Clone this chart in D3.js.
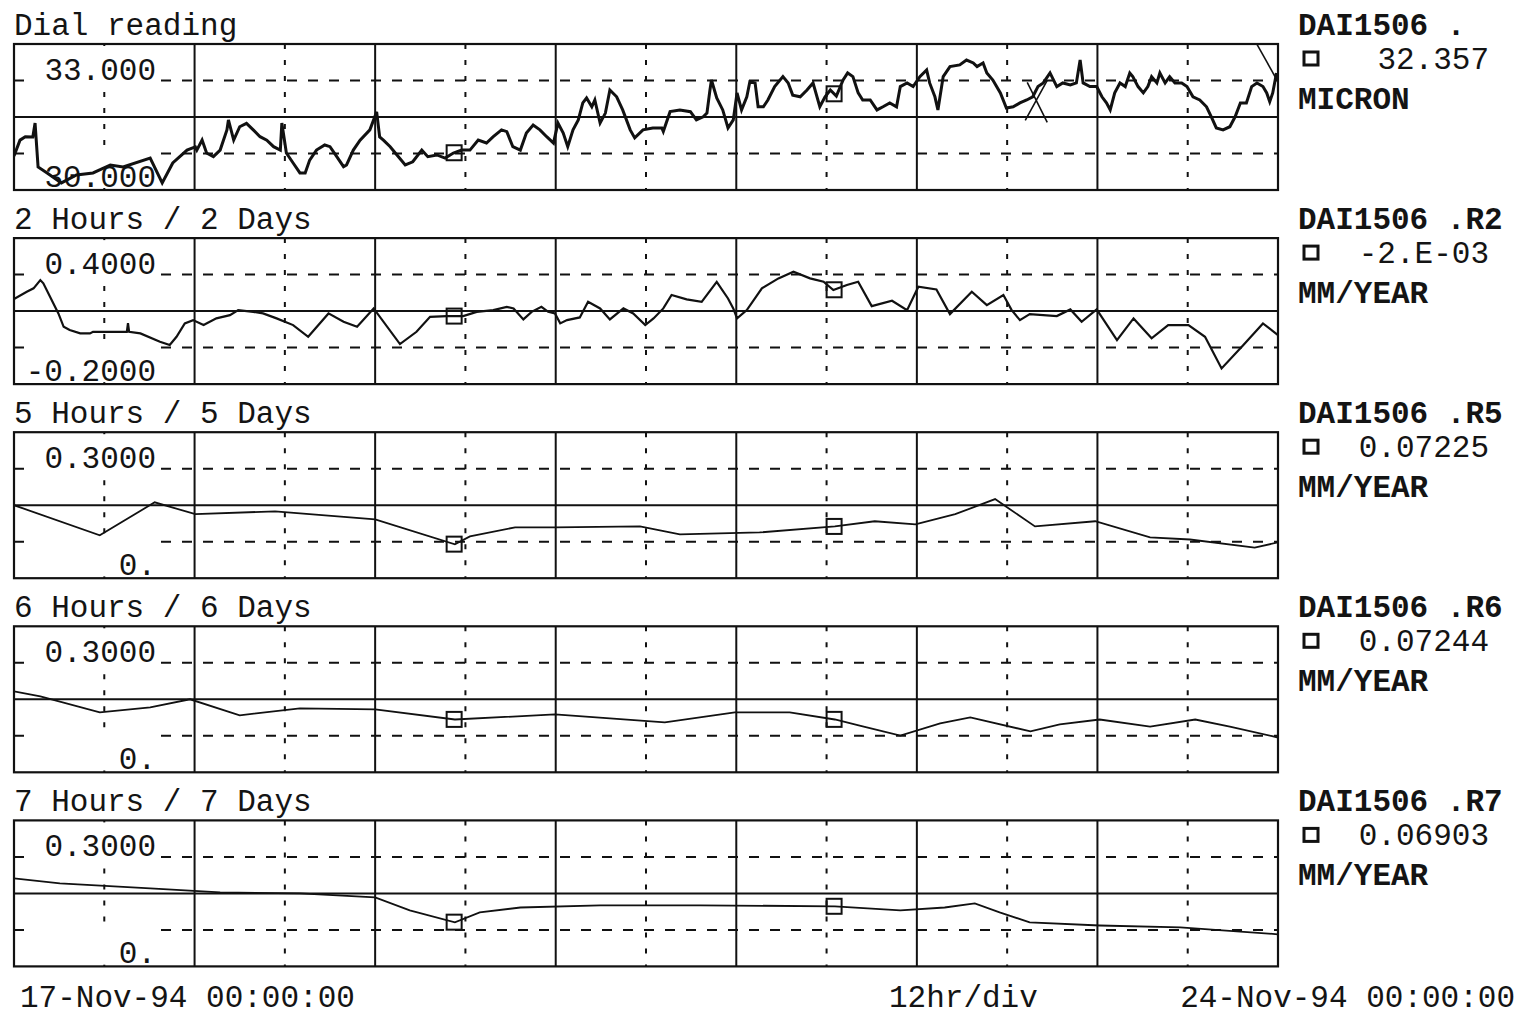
<!DOCTYPE html>
<html>
<head>
<meta charset="utf-8">
<script src="https://cdn.jsdelivr.net/npm/d3@7"></script>
<style>
  body { margin: 0; background: #fff; }
  svg { display: block; }
  text { font-family: "Liberation Mono", "DejaVu Sans Mono", monospace; fill: #141414; }
</style>
</head>
<body>
<svg id="chart" width="1519" height="1017"></svg>
<script>
// ---- Data: [hours since start, value] ----
const dialReading = [[0,29.9],[0.8,30.55],[1.5,30.69],[2.5,30.68],[2.8,31.25],[3.2,29.45],[4.4,29.2],[6.3,28.79],[8.3,29.12],[10.5,29.2],[12.8,29.53],[14.5,29.45],[18.1,29.81],[19.7,28.79],[21.1,29.61],[23.0,30.14],[24.1,30.27],[24.3,30.14],[25.0,30.55],[25.6,30.02],[26.5,29.87],[27.4,30.14],[28.3,30.97],[28.5,31.38],[29.2,30.55],[30.0,31.1],[30.9,31.24],[31.8,30.97],[32.7,30.69],[33.6,30.55],[34.5,30.28],[35.4,30.14],[35.6,31.25],[36.2,30.02],[37.1,29.61],[38.0,29.2],[38.7,29.2],[39.3,29.73],[40.2,30.14],[41.3,30.35],[42.0,30.28],[42.9,29.87],[43.8,29.46],[44.2,29.53],[45.1,30.14],[46.0,30.55],[47.3,30.97],[48.2,31.71],[48.6,30.68],[49.1,30.55],[50.0,30.28],[50.9,29.94],[52.0,29.53],[53.0,29.66],[54.2,30.14],[55.0,29.87],[56.2,29.94],[57.3,29.81],[58.4,30.02],[59.5,30.14],[60.6,30.14],[61.7,30.55],[62.8,30.43],[63.7,30.69],[64.8,30.97],[65.5,30.9],[66.3,30.28],[67.3,30.14],[68.1,30.84],[69.0,31.17],[69.9,30.97],[70.8,30.69],[71.7,30.43],[72.3,31.25],[73.0,30.84],[73.6,30.28],[74.3,30.97],[75.0,31.38],[75.6,32.08],[76.1,32.28],[76.8,31.92],[77.2,32.2],[77.9,31.25],[78.6,31.66],[79.2,32.61],[80.1,32.33],[80.9,31.79],[81.9,30.97],[82.5,30.64],[83.6,30.97],[84.9,31.05],[86.1,31.05],[86.3,30.9],[87.2,31.72],[88.5,31.79],[89.9,31.72],[90.7,31.38],[91.6,31.51],[92.1,31.66],[92.5,32.61],[92.7,33.02],[93.4,32.28],[94.2,31.79],[94.9,31.05],[95.6,31.38],[96.1,32.49],[96.7,31.79],[97.4,32.33],[97.8,32.95],[98.5,32.9],[98.9,31.92],[99.6,31.92],[100.2,32.2],[101.1,32.75],[102.2,33.16],[102.9,32.9],[103.5,32.4],[104.5,32.33],[105.4,32.61],[106.2,32.9],[107.1,31.92],[107.8,32.33],[108.5,32.61],[109.3,32.36],[110.2,33.02],[110.8,33.31],[111.5,33.16],[112.2,32.49],[112.8,32.2],[113.8,32.2],[114.7,31.79],[115.5,31.92],[116.4,32.08],[117.3,31.92],[117.8,32.75],[118.7,32.9],[119.5,32.75],[120.4,33.16],[121.3,33.43],[121.7,32.9],[122.4,32.33],[122.8,31.79],[123.5,33.16],[124.4,33.57],[125.7,33.64],[126.6,33.84],[127.5,33.72],[128.0,33.57],[128.8,33.72],[129.3,33.31],[130.1,33.02],[131.1,32.49],[131.9,31.87],[132.8,31.92],[133.7,32.08],[134.6,32.2],[135.4,32.33],[136.1,32.75],[136.8,32.9],[137.7,33.31],[138.6,32.75],[139.4,32.9],[140.4,32.82],[141.2,32.9],[141.7,33.84],[142.1,32.9],[143.0,32.75],[143.9,32.75],[144.6,32.33],[145.2,32.08],[145.7,31.79],[146.3,32.49],[147.0,32.9],[147.7,32.75],[148.3,33.31],[148.7,33.16],[149.4,32.75],[150.1,32.49],[150.7,32.75],[151.2,33.16],[151.9,32.9],[152.3,33.31],[153.0,32.9],[153.6,33.16],[154.3,32.9],[155.2,32.9],[155.9,32.75],[156.7,32.33],[157.6,32.2],[158.5,31.92],[159.2,31.46],[159.8,31.05],[160.7,30.97],[161.6,31.1],[162.3,31.51],[163.0,32.08],[163.8,32.08],[164.5,32.75],[165.2,32.9],[166.0,32.75],[166.5,32.49],[166.9,32.13],[167.3,32.49],[167.8,33.31]];

const rate2h = [[0,0.2],[1.7,0.259],[2.6,0.287],[3.5,0.355],[3.9,0.328],[5.9,0.081],[6.6,-0.029],[7.4,-0.056],[8.8,-0.083],[10.1,-0.083],[10.5,-0.07],[15.0,-0.07],[15.15,0.0],[15.3,-0.07],[16.8,-0.083],[19.4,-0.152],[20.7,-0.179],[21.6,-0.111],[22.7,-0.001],[23.8,0.026],[25.2,-0.015],[26.9,0.04],[28.7,0.067],[29.8,0.108],[31.8,0.094],[33.1,0.081],[34.9,0.04],[37.1,-0.015],[39.1,-0.111],[41.8,0.081],[43.8,0.012],[45.6,-0.029],[47.8,0.122],[51.3,-0.171],[53.5,-0.07],[55.3,0.053],[57.5,0.059],[59.7,0.059],[61.5,0.094],[63.7,0.108],[65.5,0.135],[66.4,0.122],[67.7,0.032],[68.8,0.094],[70.1,0.135],[71.0,0.094],[71.9,0.081],[72.6,-0.001],[73.5,0.026],[75.2,0.048],[76.3,0.176],[77.9,0.122],[79.2,0.032],[81.0,0.122],[82.3,0.081],[83.9,-0.015],[85.0,0.04],[86.3,0.122],[87.4,0.232],[89.4,0.196],[91.4,0.176],[93.4,0.341],[94.9,0.204],[95.6,0.122],[96.1,0.04],[97.4,0.108],[99.4,0.287],[101.6,0.369],[103.6,0.423],[105.8,0.369],[107.6,0.341],[108.9,0.273],[110.7,0.314],[112.2,0.341],[114.0,0.141],[116.7,0.185],[118.7,0.108],[120.2,0.3],[122.6,0.278],[124.4,0.075],[127.3,0.259],[129.3,0.149],[131.5,0.232],[132.6,0.108],[133.7,0.026],[135.0,0.075],[138.6,0.059],[140.4,0.114],[141.9,0.012],[143.9,0.114],[146.6,-0.138],[148.8,0.04],[151.2,-0.124],[153.4,-0.015],[156.1,-0.015],[158.3,-0.111],[160.5,-0.371],[163.4,-0.179],[166.0,-0.001],[168,-0.097]];

const rate5h = [[0,0.15],[11.4,0.026],[18.7,0.162],[24.1,0.113],[34.7,0.125],[48.0,0.092],[58.6,-0.011],[60.6,0.022],[66.6,0.059],[71.9,0.059],[83.2,0.063],[88.5,0.03],[99.1,0.038],[109.1,0.063],[114.4,0.084],[119.8,0.071],[125.1,0.113],[130.4,0.175],[135.7,0.063],[143.7,0.084],[151.0,0.018],[156.3,0.009],[164.9,-0.024],[168,-0.003]];

const rate6h = [[0,0.183],[3.5,0.162],[11.4,0.096],[18.1,0.117],[23.4,0.15],[30.0,0.084],[38.0,0.113],[48.0,0.109],[58.6,0.067],[71.9,0.088],[86.5,0.055],[95.8,0.096],[103.1,0.096],[109.1,0.067],[112.4,0.042],[117.8,0.001],[123.1,0.051],[127.1,0.076],[135.1,0.018],[139.0,0.047],[144.3,0.067],[151.0,0.038],[157.0,0.067],[161.6,0.038],[168,-0.007]];

const rate7h = [[0,0.212],[6.1,0.191],[18.1,0.171],[27.4,0.154],[38.0,0.15],[48.0,0.134],[52.6,0.08],[58.6,0.031],[61.9,0.072],[67.3,0.092],[77.9,0.101],[91.2,0.101],[109.1,0.097],[117.8,0.08],[123.7,0.092],[127.7,0.109],[131.0,0.072],[135.0,0.031],[144.3,0.018],[155.0,0.01],[168,-0.018]];

// ---- Labels ----
const panelTitles = ["Dial reading", "2 Hours / 2 Days", "5 Hours / 5 Days", "6 Hours / 6 Days", "7 Hours / 7 Days"];
const upperTicks = [33, 0.4, 0.3, 0.3, 0.3];
const upperTickLabels = ["33.000", "0.4000", "0.3000", "0.3000", "0.3000"];
const lowerTicks = [30, -0.2, 0, 0, 0];
const lowerTickLabels = ["30.000", "-0.2000", "0.", "0.", "0."];
const tagNames = ["DAI1506 .", "DAI1506 .R2", "DAI1506 .R5", "DAI1506 .R6", "DAI1506 .R7"];
const readouts = ["32.357", "-2.E-03", "0.07225", "0.07244", "0.06903"];
const units = ["MICRON", "MM/YEAR", "MM/YEAR", "MM/YEAR", "MM/YEAR"];
const cursorHours = [58.5, 109.0];
const crossMarks = [{ hour: 136.0, value: 32.1 }];
const dialTrail = [[165.0, 34.6], [167.9, 33.0]];
const startDate = new Date(Date.UTC(1994, 10, 17, 0, 0, 0));
const endDate = new Date(Date.UTC(1994, 10, 24, 0, 0, 0));
const scaleCaption = "12hr/div";

const series = [dialReading, rate2h, rate5h, rate6h, rate7h];

// ---- Layout ----
const W = 1519, H = 1017;
const left = 14, right = 1278;
const panelH = 146, panelStep = 194.1, firstTop = 44;
const ink = "#111";

const svg = d3.select("#chart");
svg.append("rect").attr("width", W).attr("height", H).attr("fill", "#fff");

const x = d3.scaleUtc().domain([startDate, endDate]).range([left, right]);
const hourToDate = h => new Date(startDate.getTime() + h * 3600e3);
const gridTicks = d3.utcHour.every(12).range(startDate, endDate).slice(1);

function valueAt(data, h) {
  const i = d3.bisector(d => d[0]).left(data, h);
  if (i <= 0) return data[0][1];
  if (i >= data.length) return data[data.length - 1][1];
  const a = data[i - 1], b = data[i];
  const t = (h - a[0]) / (b[0] - a[0]);
  return a[1] + t * (b[1] - a[1]);
}

const defs = svg.append("defs");

series.forEach((data, i) => {
  const top = firstTop + i * panelStep;
  const bottom = top + panelH;
  const lo = lowerTicks[i], hi = upperTicks[i];
  const span = hi - lo;
  const y = d3.scaleLinear().domain([lo - span / 2, hi + span / 2]).range([bottom, top]);
  const mid = (lo + hi) / 2;

  defs.append("clipPath").attr("id", "clip" + i)
    .append("rect").attr("x", left).attr("y", top).attr("width", right - left).attr("height", panelH);

  const g = svg.append("g");

  // vertical grid: solid at midnight, dashed at noon
  g.selectAll("line.v").data(gridTicks).join("line")
    .attr("x1", d => x(d)).attr("x2", d => x(d))
    .attr("y1", top).attr("y2", bottom)
    .attr("stroke", ink)
    .attr("stroke-width", 2)
    .attr("stroke-dasharray", d => d.getUTCHours() === 0 ? null : "5,11");

  // horizontal grid
  [[hi, true], [mid, false], [lo, true]].forEach(([v, dashed]) => {
    g.append("line")
      .attr("x1", left).attr("x2", right)
      .attr("y1", y(v)).attr("y2", y(v))
      .attr("stroke", ink).attr("stroke-width", 2)
      .attr("stroke-dasharray", dashed ? "10,11" : null);
  });

  // tick label boxes
  g.append("rect").attr("x", 25).attr("y", top + 2).attr("width", 134).attr("height", y(hi) - top + 1)
    .attr("fill", "#fff");
  g.append("rect").attr("x", 25).attr("y", y(lo) - 2).attr("width", 134).attr("height", bottom - y(lo))
    .attr("fill", "#fff");
  g.append("text").attr("x", 156).attr("y", y(hi) - 1).attr("text-anchor", "end")
    .attr("font-size", 31).text(upperTickLabels[i]);
  g.append("text").attr("x", 156).attr("y", bottom - 3).attr("text-anchor", "end")
    .attr("font-size", 31).text(lowerTickLabels[i]);

  // series line
  const line = d3.line().x(d => x(hourToDate(d[0]))).y(d => y(d[1]));
  g.append("path").datum(data)
    .attr("clip-path", `url(#clip${i})`)
    .attr("d", line)
    .attr("fill", "none").attr("stroke", ink)
    .attr("stroke-width", i === 0 ? 3 : (i === 1 ? 2.2 : 1.8))
    .attr("stroke-linejoin", "miter");

  // cursor squares
  cursorHours.forEach(h => {
    const cx = x(hourToDate(h)), cy = y(valueAt(data, h));
    g.append("rect").attr("x", cx - 7.5).attr("y", cy - 7.5).attr("width", 15).attr("height", 15)
      .attr("fill", "none").attr("stroke", ink).attr("stroke-width", 2);
  });

  if (i === 0) {
    crossMarks.forEach(m => {
      const cx = x(hourToDate(m.hour)), cy = y(m.value);
      g.append("path")
        .attr("d", `M${cx - 10},${cy - 20}L${cx + 10},${cy + 20}M${cx - 12},${cy + 18}L${cx + 10},${cy - 22}`)
        .attr("fill", "none").attr("stroke", ink).attr("stroke-width", 1.6);
    });
    g.append("path").datum(dialTrail).attr("clip-path", `url(#clip${i})`)
      .attr("d", line).attr("fill", "none").attr("stroke", ink).attr("stroke-width", 1.6);
  }

  // panel frame
  g.append("rect").attr("x", left).attr("y", top).attr("width", right - left).attr("height", panelH)
    .attr("fill", "none").attr("stroke", ink).attr("stroke-width", 2.2);

  // title
  svg.append("text").attr("x", 14).attr("y", top - 9).attr("font-size", 31).text(panelTitles[i]);

  // right side tag block
  svg.append("text").attr("x", 1298).attr("y", top - 9).attr("font-size", 31).attr("font-weight", "bold")
    .text(tagNames[i]);
  svg.append("rect").attr("x", 1304).attr("y", top + 8).attr("width", 14).attr("height", 13)
    .attr("fill", "none").attr("stroke", ink).attr("stroke-width", 3);
  svg.append("text").attr("x", 1489).attr("y", top + 25).attr("text-anchor", "end").attr("font-size", 31)
    .text(readouts[i]);
  svg.append("text").attr("x", 1298).attr("y", top + 65).attr("font-size", 31).attr("font-weight", "bold")
    .text(units[i]);
});

// bottom axis captions
const fmt = d3.utcFormat("%d-%b-%y %H:%M:%S");
svg.append("text").attr("x", 20).attr("y", 1007).attr("font-size", 31).text(fmt(startDate));
svg.append("text").attr("x", 889).attr("y", 1007).attr("font-size", 31).text(scaleCaption);
svg.append("text").attr("x", 1515).attr("y", 1007).attr("text-anchor", "end").attr("font-size", 31).text(fmt(endDate));
</script>
</body>
</html>
